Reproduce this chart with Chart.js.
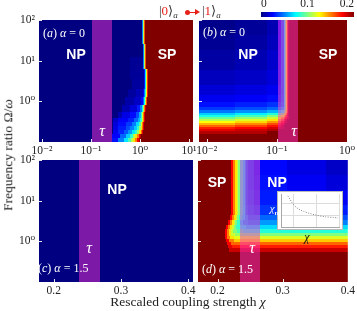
<!DOCTYPE html>
<html>
<head>
<meta charset="utf-8">
<script src="https://cdn.jsdelivr.net/npm/chart.js@4.4.1/dist/chart.umd.min.js"></script>
<style>
  html, body { margin: 0; padding: 0; background: #fff; }
  #fig { position: relative; width: 357px; height: 311px; overflow: hidden;
         font-family: "Liberation Serif", "DejaVu Serif", serif; color: #222; }
  #fig canvas { position: absolute; left: 0; top: 0; }
  .t { position: absolute; white-space: nowrap; line-height: 1; }
  .phase { color: #fff; font-family: "Liberation Sans", Arial, sans-serif; font-weight: bold;
           font-size: 14px; transform: translate(-50%, -50%); }
  .tau { color: #fff; font-style: italic; font-size: 16px; transform: translate(-50%, -50%); }
  .tag { color: #fff; font-size: 12px; transform: translateY(-50%); }
  .axt { font-size: 13.5px; color: #222; transform: translate(-50%, -50%); }
  .ket { font-size: 13px; color: #333; transform: translateY(-50%); }
  .ket sub { font-size: 9px; font-style: italic; vertical-align: -3px; }
</style>
</head>
<body>
<div id="fig">
  <canvas id="cA" width="357" height="311"></canvas>
  <canvas id="cB" width="357" height="311"></canvas>
  <canvas id="cC" width="357" height="311"></canvas>
  <canvas id="cD" width="357" height="311"></canvas>
  <canvas id="cBar" width="357" height="311"></canvas>
  <canvas id="cInset" width="64" height="37" style="left:278px;top:192px;background:#fff;outline:1px solid #b8b8b8;"></canvas>

  <!-- panel tags and phase labels -->
  <div class="t tag" style="left:43px;top:33px">(<i>a</i>) <i>α</i> = 0</div>
  <div class="t phase" style="left:76px;top:54px">NP</div>
  <div class="t phase" style="left:167px;top:54px">SP</div>
  <div class="t tau" style="left:102px;top:131px">τ</div>

  <div class="t tag" style="left:203px;top:32px">(<i>b</i>) <i>α</i> = 0</div>
  <div class="t phase" style="left:248px;top:54px">NP</div>
  <div class="t phase" style="left:328px;top:54px">SP</div>
  <div class="t tau" style="left:294px;top:131px">τ</div>

  <div class="t phase" style="left:117px;top:189px">NP</div>
  <div class="t tau" style="left:89px;top:248px">τ</div>
  <div class="t tag" style="left:38px;top:268px">(<i>c</i>) <i>α</i> = 1.5</div>

  <div class="t phase" style="left:217px;top:182px">SP</div>
  <div class="t phase" style="left:277px;top:182px">NP</div>
  <div class="t tau" style="left:252px;top:248px">τ</div>
  <div class="t tag" style="left:202px;top:269px">(<i>d</i>) <i>α</i> = 1.5</div>

  <!-- inset labels -->
  <div class="t" style="left:274px;top:210px;transform:translate(-50%,-50%);color:#e8eeff;font-size:11px"><i>χ</i><sub style="font-size:7px;font-weight:bold">n</sub></div>
  <div class="t" style="left:307px;top:237px;transform:translate(-50%,-50%);color:#111;font-size:12px"><i>χ</i></div>

  <!-- axis titles -->
  <div class="t axt" style="left:8px;top:155px;transform:translate(-50%,-50%) rotate(-90deg)">Frequency ratio Ω/<i>ω</i></div>
  <div class="t axt" style="left:188px;top:302px">Rescaled coupling strength <i>χ</i></div>

  <!-- state legend -->
  <div class="t ket" style="left:159px;top:12px">|<span style="color:#e8201a">0</span>⟩<sub>a</sub></div>
  <div style="position:absolute;left:185px;top:9.5px;width:5px;height:5px;border-radius:50%;background:#e8201a"></div>
  <div style="position:absolute;left:188px;top:11.5px;width:7px;height:1.4px;background:#e8201a"></div>
  <div style="position:absolute;left:195px;top:9px;width:0;height:0;border-left:5px solid #e8201a;border-top:3px solid transparent;border-bottom:3px solid transparent"></div>
  <div class="t ket" style="left:202px;top:12px">|<span style="color:#e8201a">1</span>⟩<sub>a</sub></div>
</div>

<script>
// ---------- shared ----------
const COLOR_MAX = 0.2;
const Y_RANGE = [-1, 2];              // log10(Ω/ω)
const Y_TICKS = [0, 1, 2];
const TAU_COLOR = "rgba(250, 50, 205, 0.5)";

// ---------- panel (a): α = 0, log χ ----------
const A_X_RANGE = [-2.06, 1.08];      // log10 χ
const A_X_TICKS = [-2, -1, 0, 1];
const A_TAU = [-0.98, -0.57];
const A_ROWS = [2, 1.7, 1.4, 1.1, 0.8, 0.55, 0.3, 0.1, -0.1, -0.25, -0.4, -0.5, -0.6, -0.7, -0.8, -0.9, -1];
const A_CELLS = [ // each row: [x end (log10 χ), value]
  [[0.031,0],[0.051,0.05],[0.071,0.11],[0.092,0.16],[1.08,0.2]],
  [[0.041,0],[0.061,0.05],[0.082,0.11],[0.102,0.16],[1.08,0.2]],
  [[0.051,0],[0.071,0.05],[0.092,0.11],[0.112,0.16],[1.08,0.2]],
  [[-0.2,0],[0.061,0.004],[0.082,0.05],[0.102,0.11],[0.122,0.16],[1.08,0.2]],
  [[-0.2,0],[0.071,0.005],[0.092,0.03],[0.112,0.07],[0.133,0.12],[0.153,0.165],[1.08,0.2]],
  [[-0.163,0],[0.071,0.006],[0.092,0.03],[0.112,0.07],[0.133,0.12],[0.153,0.165],[1.08,0.2]],
  [[-0.245,0],[-0.082,0.006],[0.051,0.011],[0.071,0.025],[0.092,0.05],[0.112,0.085],[0.133,0.125],[0.153,0.17],[1.08,0.2]],
  [[-0.306,0],[-0.122,0.008],[0.020,0.014],[0.051,0.026],[0.071,0.045],[0.092,0.075],[0.112,0.115],[0.133,0.16],[1.08,0.2]],
  [[-0.367,0],[-0.204,0.01],[-0.061,0.018],[0.0,0.03],[0.041,0.05],[0.061,0.075],[0.082,0.11],[0.102,0.15],[0.122,0.185],[1.08,0.2]],
  [[-0.449,0],[-0.367,0.01],[-0.204,0.02],[-0.082,0.027],[-0.020,0.04],[0.020,0.06],[0.041,0.085],[0.061,0.115],[0.082,0.15],[0.102,0.18],[1.08,0.2]],
  [[-0.551,0],[-0.449,0.014],[-0.245,0.024],[-0.122,0.031],[-0.041,0.045],[0.0,0.06],[0.031,0.085],[0.051,0.115],[0.071,0.15],[0.092,0.18],[1.08,0.2]],
  [[-0.551,0],[-0.449,0.018],[-0.286,0.027],[-0.163,0.036],[-0.082,0.05],[-0.020,0.068],[0.020,0.09],[0.041,0.12],[0.061,0.15],[0.082,0.18],[1.08,0.2]],
  [[-0.551,0],[-0.449,0.02],[-0.286,0.03],[-0.204,0.04],[-0.122,0.05],[-0.061,0.065],[-0.020,0.085],[0.010,0.105],[0.031,0.13],[0.051,0.155],[0.071,0.18],[1.08,0.2]],
  [[-0.551,0],[-0.449,0.022],[-0.327,0.032],[-0.245,0.042],[-0.163,0.055],[-0.102,0.07],[-0.061,0.085],[-0.020,0.105],[0.010,0.13],[0.031,0.155],[0.051,0.18],[1.08,0.2]],
  [[-0.571,0],[-0.408,0.025],[-0.286,0.045],[-0.204,0.065],[-0.143,0.085],[-0.102,0.11],[-0.061,0.13],[-0.031,0.15],[0.0,0.175],[0.020,0.19],[1.08,0.2]],
  [[-0.571,0],[-0.449,0.028],[-0.327,0.05],[-0.245,0.07],[-0.184,0.09],[-0.143,0.11],[-0.102,0.13],[-0.061,0.15],[-0.020,0.175],[0.0,0.19],[1.08,0.2]]
];

// ---------- panel (b): α = 0, log χ ----------
const B_X_RANGE = [-2.11, 0];
const B_X_TICKS = [-2, -1, 0];
const B_TAU = [-0.98, -0.70];
const B_ROWS = [2, 1.63, 1.26, 0.77, 0.40, 0.156, -0.016, -0.14, -0.213, -0.287, -0.336, -0.385, -0.434, -0.483, -0.533, -0.58, -0.63, -0.68, -0.73, -0.80, -1];
const B_CELLS = [
  [[-1.6,.002],[-1.137,.005],[-0.986,.01],[-0.945,.025],[-0.904,.045],[-0.877,.075],[-0.863,.1],[-0.849,.125],[-0.836,.16],[-0.822,.19],[0,.2]],
  [[-1.6,.004],[-1.137,.007],[-0.986,.012],[-0.945,.026],[-0.904,.045],[-0.877,.075],[-0.863,.1],[-0.849,.125],[-0.836,.16],[-0.822,.19],[0,.2]],
  [[-1.6,.007],[-1.137,.01],[-0.986,.015],[-0.945,.027],[-0.904,.045],[-0.877,.075],[-0.863,.1],[-0.849,.125],[-0.836,.16],[-0.822,.19],[0,.2]],
  [[-1.6,.012],[-1.137,.014],[-0.986,.018],[-0.945,.028],[-0.904,.045],[-0.877,.075],[-0.863,.1],[-0.849,.125],[-0.836,.16],[-0.822,.19],[0,.2]],
  [[-1.6,.017],[-1.137,.019],[-0.986,.022],[-0.945,.03],[-0.904,.046],[-0.877,.075],[-0.863,.1],[-0.849,.125],[-0.836,.16],[-0.822,.19],[0,.2]],
  [[-1.6,.022],[-1.137,.024],[-0.986,.027],[-0.945,.033],[-0.904,.047],[-0.877,.075],[-0.863,.1],[-0.849,.125],[-0.836,.16],[-0.822,.19],[0,.2]],
  [[-1.6,.028],[-1.137,.031],[-0.986,.035],[-0.945,.04],[-0.904,.05],[-0.877,.075],[-0.863,.1],[-0.849,.125],[-0.836,.16],[-0.822,.19],[0,.2]],
  [[-1.6,.036],[-1.137,.04],[-0.986,.045],[-0.945,.05],[-0.904,.06],[-0.877,.08],[-0.863,.1],[-0.849,.125],[-0.836,.16],[-0.822,.19],[0,.2]],
  [[-1.6,.048],[-1.137,.053],[-0.986,.06],[-0.945,.068],[-0.904,.08],[-0.877,.095],[-0.863,.11],[-0.849,.13],[-0.836,.16],[-0.822,.19],[0,.2]],
  [[-1.6,.065],[-1.137,.072],[-0.986,.082],[-0.945,.09],[-0.904,.1],[-0.877,.115],[-0.863,.13],[-0.849,.15],[-0.836,.17],[-0.822,.19],[0,.2]],
  [[-1.6,.08],[-1.137,.088],[-0.986,.1],[-0.945,.11],[-0.904,.12],[-0.877,.135],[-0.863,.15],[-0.849,.165],[-0.836,.18],[-0.822,.19],[0,.2]],
  [[-1.6,.095],[-1.137,.103],[-0.986,.115],[-0.945,.125],[-0.904,.14],[-0.877,.155],[-0.849,.17],[-0.822,.185],[0,.2]],
  [[-1.6,.11],[-1.137,.118],[-0.986,.13],[-0.945,.14],[-0.904,.155],[-0.877,.17],[-0.849,.185],[0,.2]],
  [[-1.6,.125],[-1.137,.133],[-0.986,.145],[-0.945,.155],[-0.904,.17],[-0.877,.18],[-0.849,.19],[0,.2]],
  [[-1.6,.14],[-1.137,.148],[-0.986,.16],[-0.945,.17],[-0.904,.18],[-0.877,.19],[0,.2]],
  [[-1.6,.155],[-1.137,.162],[-0.986,.172],[-0.945,.18],[-0.904,.19],[0,.2]],
  [[-1.6,.17],[-1.137,.175],[-0.986,.183],[-0.904,.19],[0,.2]],
  [[-1.6,.18],[-1.137,.185],[-0.986,.19],[0,.2]],
  [[-1.137,.19],[0,.2]],
  [[0,.2]]
];

// ---------- panel (c): α = 1.5, linear χ ----------
const C_X_RANGE = [0.178, 0.407];
const CD_X_TICKS = [0.2, 0.3, 0.4];
const C_TAU = [0.238, 0.268];
const C_ROWS = [2, -1];
const C_CELLS = [[[0.407, 0]]];

// ---------- panel (d): α = 1.5, linear χ ----------
const D_X_RANGE = [0.17, 0.40];
const D_TAU = [0.235, 0.265];
const D_ROWS = [2, 1.63, 1.26, 0.89, 0.65, 0.52, 0.40, 0.30, 0.205, 0.13, 0.057, -0.016, -0.09, -0.164, -0.262, -1];
const D_CELLS = [
  [[0.2206,.2],[0.2235,.175],[0.2265,.15],[0.2295,.13],[0.231,.115],[0.2339,.1],[0.2384,.085],[0.2414,.07],[0.2443,.058],[0.2473,.048],[0.2562,.04],[0.2652,.031],[0.3068,.026],[0.3663,.02],[0.40,.014]],
  [[0.2206,.2],[0.2235,.175],[0.2265,.15],[0.2295,.13],[0.231,.115],[0.2339,.1],[0.2384,.085],[0.2414,.07],[0.2443,.058],[0.2473,.048],[0.2562,.04],[0.2652,.033],[0.3068,.028],[0.3663,.023],[0.40,.018]],
  [[0.2206,.2],[0.2235,.175],[0.2265,.15],[0.2295,.13],[0.231,.115],[0.2339,.1],[0.2384,.085],[0.2414,.07],[0.2443,.058],[0.2473,.048],[0.2562,.042],[0.2652,.035],[0.3068,.03],[0.3663,.027],[0.40,.023]],
  [[0.2206,.2],[0.2235,.175],[0.2265,.15],[0.2295,.13],[0.231,.115],[0.2339,.1],[0.2384,.085],[0.2414,.072],[0.2443,.06],[0.2473,.05],[0.2562,.045],[0.2652,.04],[0.3068,.035],[0.3663,.032],[0.40,.03]],
  [[0.2191,.2],[0.222,.175],[0.225,.15],[0.228,.13],[0.2295,.115],[0.2324,.1],[0.2369,.085],[0.2414,.072],[0.2473,.06],[0.2652,.05],[0.3068,.045],[0.3663,.042],[0.40,.04]],
  [[0.2161,.2],[0.2191,.175],[0.222,.15],[0.225,.13],[0.2265,.115],[0.2295,.1],[0.2339,.085],[0.2384,.07],[0.2473,.06],[0.3068,.055],[0.40,.05]],
  [[0.2131,.2],[0.2161,.175],[0.2191,.15],[0.222,.13],[0.225,.115],[0.228,.1],[0.2354,.085],[0.2443,.075],[0.40,.068]],
  [[0.2116,.2],[0.2146,.175],[0.2176,.15],[0.2206,.13],[0.2235,.115],[0.2295,.1],[0.2384,.09],[0.40,.082]],
  [[0.2116,.2],[0.2146,.175],[0.2176,.15],[0.2206,.13],[0.2265,.115],[0.2354,.105],[0.40,.1]],
  [[0.2116,.2],[0.2146,.175],[0.2191,.15],[0.225,.13],[0.2354,.12],[0.40,.118]],
  [[0.2131,.2],[0.2176,.175],[0.225,.15],[0.40,.135]],
  [[0.2146,.2],[0.2206,.175],[0.40,.155]],
  [[0.2161,.2],[0.222,.18],[0.40,.17]],
  [[0.2176,.2],[0.40,.185]],
  [[0.40,.2]]
];

// ---------- colour bar and inset ----------
const BAR_TICKS = [0, 0.1, 0.2];
const INSET_CHI = [0.74, 0.83, 0.92, 1.05, 1.22, 1.44, 1.70, 2.05, 2.40, 2.74, 2.96];
const INSET_CHI_N = [2.67, 2.42, 2.13, 1.83, 1.58, 1.38, 1.21, 1.04, 0.93, 0.88, 0.83];

// ======================================================
// helpers
// ======================================================
function jet(v) {
    const t = Math.max(0, Math.min(1, v / COLOR_MAX));
    const c = k => Math.round(255 * Math.max(0, Math.min(1, 1.5 - Math.abs(4 * t - k))));
    return `rgb(${c(3)},${c(2)},${c(1)})`;
}

const SUP = { "-": "⁻", "0": "⁰", "1": "¹", "2": "²", "3": "³" };
const powLabel = v => "10" + String(Math.round(Math.log10(v))).split("").map(ch => SUP[ch]).join("");

const TICK_FONT = { family: "'Liberation Serif', 'DejaVu Serif', serif", size: 11.5 };

// draws the heat cells, the tau band and inward tick marks from the scales
function heatmapPlugin(panel) {
    return {
        id: "heatmap",
        beforeDatasetsDraw(chart) {
            const { ctx, chartArea: area, scales: { x, y } } = chart;
            const px = v => x.getPixelForValue(panel.logX ? Math.pow(10, v) : v);
            const py = v => y.getPixelForValue(Math.pow(10, v));
            ctx.save();
            ctx.beginPath();
            ctx.rect(area.left, area.top, area.width, area.height);
            ctx.clip();
            panel.cells.forEach((row, i) => {
                const y0 = Math.round(py(panel.rows[i]));
                const y1 = Math.round(py(panel.rows[i + 1]));
                let start = panel.xRange[0];
                row.forEach(([end, v]) => {
                    const x0 = Math.round(px(start)), x1 = Math.round(px(end));
                    if (x1 > x0) {
                        ctx.fillStyle = jet(v);
                        ctx.fillRect(x0, y0, x1 - x0, y1 - y0);
                    }
                    start = end;
                });
            });
            const t0 = Math.round(px(panel.tau[0])), t1 = Math.round(px(panel.tau[1]));
            ctx.fillStyle = TAU_COLOR;
            ctx.fillRect(t0, area.top, t1 - t0, area.height);

            // inward ticks
            ctx.strokeStyle = "rgba(255,255,255,0.9)";
            ctx.lineWidth = 1;
            x.ticks.forEach(t => {
                const xp = Math.round(x.getPixelForValue(t.value)) + 0.5;
                ctx.beginPath();
                ctx.moveTo(xp, area.bottom);
                ctx.lineTo(xp, area.bottom - 3);
                ctx.stroke();
            });
            y.ticks.forEach(t => {
                const yp = Math.round(y.getPixelForValue(t.value)) + 0.5;
                ctx.beginPath();
                ctx.moveTo(area.left, yp);
                ctx.lineTo(area.left + 3, yp);
                ctx.stroke();
            });
            ctx.restore();
        }
    };
}

function makePanel(id, panel) {
    const xAxis = panel.logX ? {
        type: "logarithmic",
        min: Math.pow(10, panel.xRange[0]),
        max: Math.pow(10, panel.xRange[1]),
        afterBuildTicks: s => { s.ticks = panel.xTicks.map(e => ({ value: Math.pow(10, e) })); },
        ticks: { callback: v => powLabel(v) }
    } : {
        type: "linear",
        min: panel.xRange[0],
        max: panel.xRange[1],
        afterBuildTicks: s => { s.ticks = panel.xTicks.map(v => ({ value: v })); },
        ticks: { callback: v => v.toFixed(1) }
    };
    Object.assign(xAxis.ticks, { font: TICK_FONT, color: "#222", padding: 2, maxRotation: 0, autoSkip: false });
    xAxis.afterFit = s => { s.height = 18; };
    xAxis.grid = { display: false, drawTicks: false };
    xAxis.border = { display: false };

    return new Chart(document.getElementById(id), {
        type: "scatter",
        data: { datasets: [] },
        options: {
            responsive: false,
            animation: false,
            devicePixelRatio: 1,
            layout: { padding: panel.pad },
            plugins: { legend: { display: false }, tooltip: { enabled: false } },
            scales: {
                x: xAxis,
                y: {
                    type: "logarithmic",
                    min: Math.pow(10, Y_RANGE[0]),
                    max: Math.pow(10, Y_RANGE[1]),
                    afterBuildTicks: s => { s.ticks = Y_TICKS.map(e => ({ value: Math.pow(10, e) })); },
                    afterFit: s => { s.width = panel.yWidth; },
                    grid: { display: false, drawTicks: false },
                    border: { display: false },
                    ticks: { display: panel.yLabels, callback: v => powLabel(v), font: TICK_FONT, color: "#222", padding: 4 }
                }
            }
        },
        plugins: [heatmapPlugin(panel)]
    });
}

// ======================================================
// the four panels
// ======================================================
makePanel("cA", { logX: true, xRange: A_X_RANGE, xTicks: A_X_TICKS, rows: A_ROWS, cells: A_CELLS, tau: A_TAU,
    yLabels: true, yWidth: 39, pad: { left: 0, top: 20, right: 164, bottom: 151 } });
makePanel("cB", { logX: true, xRange: B_X_RANGE, xTicks: B_X_TICKS, rows: B_ROWS, cells: B_CELLS, tau: B_TAU,
    yLabels: false, yWidth: 3, pad: { left: 196, top: 20, right: 4, bottom: 151 } });
makePanel("cC", { logX: false, xRange: C_X_RANGE, xTicks: CD_X_TICKS, rows: C_ROWS, cells: C_CELLS, tau: C_TAU,
    yLabels: true, yWidth: 39, pad: { left: 0, top: 160, right: 164, bottom: 11 } });
makePanel("cD", { logX: false, xRange: D_X_RANGE, xTicks: CD_X_TICKS, rows: D_ROWS, cells: D_CELLS, tau: D_TAU,
    yLabels: false, yWidth: 3, pad: { left: 195, top: 160, right: 4, bottom: 11 } });

// ======================================================
// colour bar (top right)
// ======================================================
new Chart(document.getElementById("cBar"), {
    type: "bar",
    data: {
        labels: [""],
        datasets: [{
            data: [[BAR_TICKS[0], BAR_TICKS[BAR_TICKS.length - 1]]],
            backgroundColor: ctx => {
                const { chartArea: area, ctx: c } = ctx.chart;
                if (!area) return "#000080";
                const g = c.createLinearGradient(area.left, 0, area.right, 0);
                for (let i = 0; i <= 8; i++) g.addColorStop(i / 8, jet(COLOR_MAX * i / 8));
                return g;
            },
            borderWidth: 0,
            barPercentage: 1,
            categoryPercentage: 1
        }]
    },
    options: {
        indexAxis: "y",
        responsive: false,
        animation: false,
        devicePixelRatio: 1,
        layout: { padding: { left: 261, right: 3, top: 0, bottom: 294 } },
        plugins: { legend: { display: false }, tooltip: { enabled: false } },
        scales: {
            x: {
                type: "linear",
                position: "top",
                min: 0,
                max: COLOR_MAX,
                afterBuildTicks: s => { s.ticks = BAR_TICKS.map(v => ({ value: v })); },
                afterFit: s => { s.height = 12; },
                grid: { display: false, drawTicks: false },
                border: { display: false },
                ticks: { align: "inner", font: TICK_FONT, color: "#222", padding: 1,
                         callback: v => v === 0 ? "0" : v.toFixed(1) }
            },
            y: { display: false }
        }
    }
});

// ======================================================
// inset: χn versus χ
// ======================================================
new Chart(document.getElementById("cInset"), {
    type: "line",
    data: {
        datasets: [{
            data: INSET_CHI.map((v, i) => ({ x: v, y: INSET_CHI_N[i] })),
            borderColor: "#808080",
            borderWidth: 1,
            borderDash: [1, 1.5],
            pointRadius: 0,
            tension: 0.3
        }]
    },
    options: {
        responsive: false,
        animation: false,
        devicePixelRatio: 1,
        layout: { padding: { left: 3, right: 3, top: 2, bottom: 2 } },
        plugins: { legend: { display: false }, tooltip: { enabled: false } },
        scales: {
            x: {
                type: "linear", min: 0.44, max: 3,
                afterBuildTicks: s => { s.ticks = [1, 2, 3].map(v => ({ value: v })); },
                afterFit: s => { s.height = 0; },
                ticks: { display: false },
                grid: { color: "#dcdcdc", drawTicks: false },
                border: { color: "#a8a8a8" }
            },
            y: {
                type: "linear", min: 0.08, max: 2.83,
                afterBuildTicks: s => { s.ticks = [1, 2].map(v => ({ value: v })); },
                afterFit: s => { s.width = 0; },
                ticks: { display: false },
                grid: { color: "#dcdcdc", drawTicks: false },
                border: { color: "#a8a8a8" }
            }
        }
    }
});
</script>
</body>
</html>
